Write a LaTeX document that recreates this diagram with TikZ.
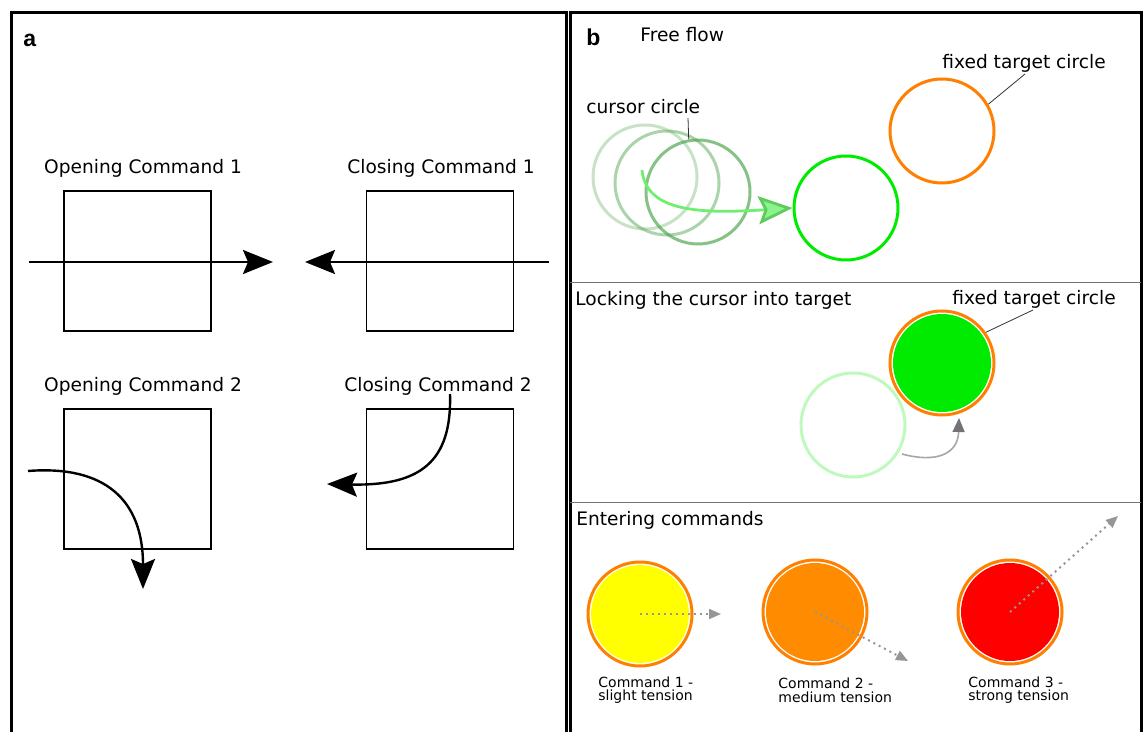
\documentclass[tikz,border=0pt]{standalone}
\usepackage{fontspec}
\setmainfont{DejaVu Sans}
\newfontfamily\panelfont{Liberation Sans}
\usetikzlibrary{arrows.meta,positioning}

\definecolor{ringorange}{RGB}{255,128,0}
\definecolor{cursorgreen}{RGB}{70,160,70}
\definecolor{flowgreen}{RGB}{110,240,110}
\definecolor{targetgreen}{RGB}{0,235,0}
\definecolor{ghostgreen}{RGB}{190,250,190}
\definecolor{cmdyellow}{RGB}{255,255,0}
\definecolor{cmdorange}{RGB}{255,140,0}
\definecolor{cmdred}{RGB}{255,0,0}
\definecolor{hintgray}{RGB}{150,150,150}

\begin{document}
\begin{tikzpicture}[
		x=0.5pt, y=-0.5pt,
		txt/.style={font=\fontsize{9.3}{11}\selectfont, inner sep=0pt},
		note/.style={font=\fontsize{7}{6.8}\selectfont, align=left, inner sep=0pt, anchor=west},
		letter/.style={font=\panelfont\bfseries\fontsize{11.5}{12}\selectfont, inner sep=0pt, anchor=west},
		panel/.style={draw, line width=1.5pt},
		divider/.style={draw=black!55, line width=0.5pt},
		cmdbox/.style={draw, line width=0.6pt, minimum width=73.5pt, minimum height=70pt, inner sep=0pt},
		bigarrow/.style={-{Stealth[length=15pt, width=12pt, inset=2.5pt]}, line width=1.2pt},
		ring/.style={circle, minimum size=52pt, inner sep=0pt, line width=1.5pt},
		cmdring/.style={ring, draw=ringorange, fill=white, path picture={\fill[#1] (path picture bounding box.center) circle (24.5pt);}},
		leader/.style={draw=black!80, line width=0.4pt},
		hint/.style={-{Triangle[length=6pt, width=5pt]}, hintgray, dotted, line width=1pt}
	]
	\clip (0,0) rectangle (1144,732);
	\draw[panel] (11,13) rectangle (566,760);
	\draw[panel] (570,13) rectangle (1141,760);
	\draw[divider] (570,283) -- (1141,283);
	\draw[divider] (570,502) -- (1141,502);

	\node[letter] (labA) at (23,40) {a};
	\node[letter] (labB) at (586,37) {b};

	\node[cmdbox] (openOne) at (137.5,261) {};
	\node[cmdbox] (closeOne) at (440,261) {};
	\node[cmdbox] (openTwo) at (137.5,479) {};
	\node[cmdbox] (closeTwo) at (440,479) {};
	\node[txt] (openOneTxt) at (143,168) {Opening Command 1};
	\node[txt] (closeOneTxt) at (441,168) {Closing Command 1};
	\node[txt] (openTwoTxt) at (143,386) {Opening Command 2};
	\node[txt] (closeTwoTxt) at (438,386) {Closing Command 2};
	\coordinate (openOneIn) at (29,262);
	\coordinate (openOneOut) at (273,262);
	\coordinate (closeOneIn) at (549,262);
	\coordinate (closeOneOut) at (305,262);
	\coordinate (openTwoIn) at (28,471);
	\coordinate (openTwoOut) at (143,589);
	\coordinate (closeTwoIn) at (450,394);
	\coordinate (closeTwoOut) at (327,484);
	\draw[bigarrow] (openOneIn) -- (openOneOut);
	\draw[bigarrow] (closeOneIn) -- (closeOneOut);
	\draw[bigarrow] (openTwoIn) .. controls (105,465) and (143,500) .. (openTwoOut);
	\draw[bigarrow] (closeTwoIn) .. controls (452,462) and (420,486) .. (closeTwoOut);

	\node[txt, anchor=west] (freeTxt) at (640,35) {Free flow};
	\node[txt, anchor=west] (fixedTxt) at (942,63) {fixed target circle};
	\node[txt, anchor=west] (cursorTxt) at (586,107) {cursor circle};
	\node[ring, draw=ringorange] (target) at (942,131) {};
	\node[ring, draw=cursorgreen, draw opacity=0.3] (cursorA) at (645,177) {};
	\node[ring, draw=cursorgreen, draw opacity=0.45] (cursorB) at (667,183) {};
	\node[ring, draw=cursorgreen, draw opacity=0.65] (cursorC) at (698,192) {};
	\node[ring, draw=targetgreen] (greenTarget) at (846,208) {};
	\draw[leader] (1025,74) -- (target.30);
	\draw[leader] (688,118) -- (cursorC.100);
	\coordinate (flowStart) at (642,170);
	\draw[flowgreen, line width=1.4pt, -{Stealth[length=17pt, width=14pt, inset=3pt, flowgreen!85!black, fill=flowgreen!80!white]}]
		(flowStart) .. controls (646,212) and (700,214) .. (greenTarget.west);

	\node[txt, anchor=west] (lockTxt) at (575,300) {Locking the cursor into target};
	\node[txt, anchor=west] (fixedTxtB) at (952,299) {fixed target circle};
	\node[ring, draw=ghostgreen] (ghost) at (853,425) {};
	\node[cmdring=targetgreen] (locked) at (942,363) {};
	\draw[leader] (1033,310) -- (locked.35);
	\coordinate (lockStart) at (902,454);
	\draw[black!35, line width=0.8pt, -{Triangle[length=7pt, width=6pt, black!55]}]
		(lockStart) .. controls (935,463) and (958,455) .. (959,418);

	\node[txt, anchor=west] (enterTxt) at (576,520) {Entering commands};
	\node[cmdring=cmdyellow] (cmdOne) at (640,614) {};
	\node[cmdring=cmdorange] (cmdTwo) at (815,612) {};
	\node[cmdring=cmdred] (cmdThree) at (1010,612) {};
	\coordinate (cmdOneEnd) at (721,614);
	\coordinate (cmdTwoEnd) at (908,661);
	\coordinate (cmdThreeEnd) at (1118,516);
	\draw[hint] (cmdOne.center) -- (cmdOneEnd);
	\draw[hint] (cmdTwo.center) -- (cmdTwoEnd);
	\draw[hint] (cmdThree.center) -- (cmdThreeEnd);
	\node[note] (cmdOneTxt) at (598,690) {Command 1 -\\slight tension};
	\node[note] (cmdTwoTxt) at (778,690) {Command 2 -\\medium tension};
	\node[note] (cmdThreeTxt) at (968,690) {Command 3 -\\strong tension};
\end{tikzpicture}
\end{document}
